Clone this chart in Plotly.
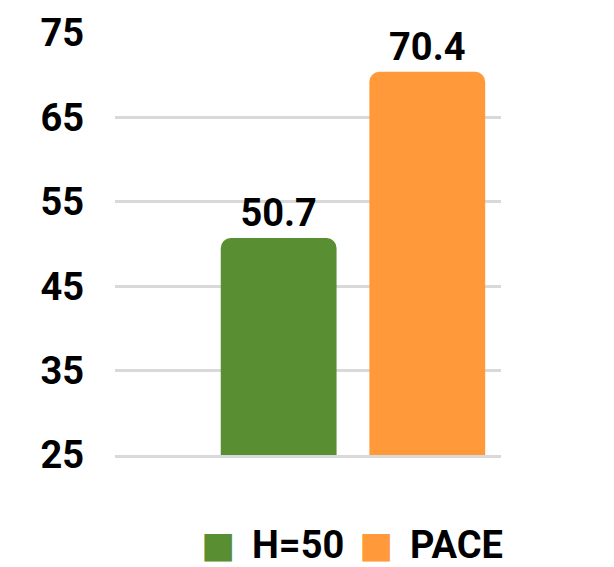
import plotly.graph_objects as go

# data
series = ["H=50", "PACE"]
values = [50.7, 70.4]
colors = ["#598E33", "#FF993A"]
category = ["score"]

Y_TICKS = [25, 35, 45, 55, 65, 75]
FONT = "Roboto, 'Open Sans', sans-serif"

# bar placement inside the single category slot
BAR_WIDTH = 0.3
BAR_OFFSETS = [-0.226, 0.159]

fig = go.Figure()
for name, val, col, off in zip(series, values, colors, BAR_OFFSETS):
    fig.add_trace(
        go.Bar(
            x=category,
            y=[val],
            name=name,
            width=BAR_WIDTH,
            offset=off,
            marker=dict(color=col, cornerradius=10, line_width=0),
            text=[f"{val:.1f}"],
            textposition="outside",
            textfont=dict(family=FONT, size=38, color="black", weight="bold"),
            cliponaxis=False,
            showlegend=False,
        )
    )

# legend drawn as annotations so the swatches can be large
swatch_x = [0.218, 0.627]
label_x = [0.350, 0.759]
for name, col, sx, lx in zip(series, colors, swatch_x, label_x):
    fig.add_annotation(
        text="■",
        xref="paper", yref="paper",
        x=sx, y=-0.213,
        xanchor="left", yanchor="middle",
        showarrow=False,
        font=dict(family="DejaVu Sans", size=36, color=col),
    )
    fig.add_annotation(
        text=name,
        xref="paper", yref="paper",
        x=lx, y=-0.213,
        xanchor="left", yanchor="middle",
        showarrow=False,
        font=dict(family=FONT, size=38, color="black", weight="bold"),
    )

# page body adds an 8px margin, so the figure is trimmed to fit the window
fig.update_layout(
    width=606,
    height=559,
    margin=dict(l=107, r=113, t=25, b=112),
    plot_bgcolor="white",
    paper_bgcolor="white",
    barmode="overlay",
    font=dict(family=FONT, size=38, color="black"),
)
fig.update_xaxes(
    range=[-0.5, 0.5],
    showticklabels=False,
    showgrid=False,
    showline=True,
    linecolor="#d9d9d9",
    linewidth=3,
    zeroline=False,
)
fig.update_yaxes(
    range=[25, 75],
    tickvals=Y_TICKS,
    showgrid=True,
    gridcolor="#d9d9d9",
    gridwidth=3,
    zeroline=False,
    automargin=False,
    ticklabelstandoff=30,
    tickfont=dict(family=FONT, size=38, color="black", weight="bold"),
)

fig.write_html("out.html")
